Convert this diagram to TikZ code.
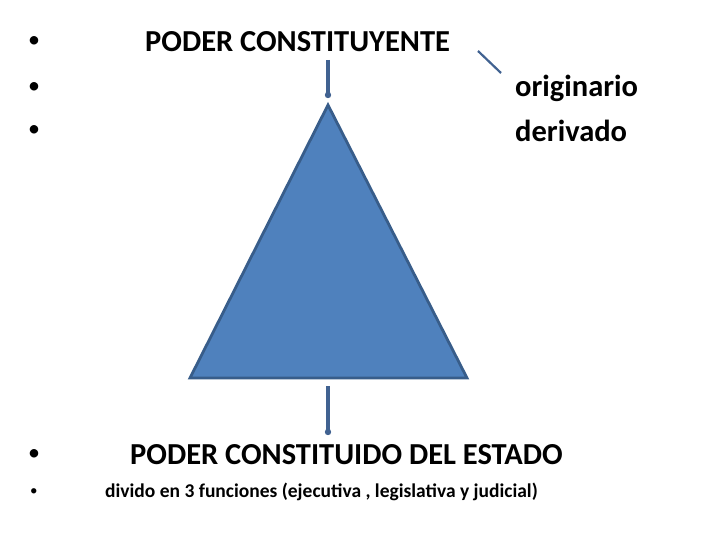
\documentclass[tikz,border=0pt]{standalone}
\usepackage{fontspec}
\setmainfont{Carlito}
\begin{document}
\begin{tikzpicture}[x=1pt,y=-1pt,
  big/.style={font=\fontsize{30.5}{32}\selectfont\bfseries,anchor=west,inner sep=0},
  bul/.style={font=\fontsize{24}{26}\selectfont,anchor=west,inner sep=0},
  small/.style={font=\fontsize{19.5}{22}\selectfont\bfseries,anchor=west,inner sep=0},
  conn/.style={color={rgb,255:red,65;green,98;blue,145},line width=3.2pt},
  dotend/.style={fill={rgb,255:red,65;green,98;blue,145}}]
\useasboundingbox (0,0) rectangle (720,540);
\node[bul] (b1) at (28,42) {•};
\node[bul] (b2) at (28,88) {•};
\node[bul] (b3) at (28,131) {•};
\node[big] (t1) at (145,42) {PODER CONSTITUYENTE};
\node[big] (t2) at (515,88) {originario};
\node[big] (t3) at (515,131) {derivado};
\node[bul] (b4) at (28,455) {•};
\node[big] (t4) at (130,455) {PODER CONSTITUIDO DEL ESTADO};
\node[small,font=\fontsize{15}{16}\selectfont] (b5) at (30,492) {•};
\node[small] (t5) at (105,492) {divido en 3 funciones (ejecutiva , legislativa y judicial)};
\coordinate (a1) at (328,60); \coordinate (a2) at (328,95);
\coordinate (c1) at (328,386); \coordinate (c2) at (328,432);
\coordinate (d1) at (478,51); \coordinate (d2) at (501,73);
\draw[conn,line width=2.2pt] (d1) -- (d2);
\draw[conn] (a1) -- (a2); \fill[dotend] (a2) circle (3.2);
\draw[conn] (c1) -- (c2); \fill[dotend] (c2) circle (3.2);
\coordinate (p1) at (328,105); \coordinate (p2) at (467,378); \coordinate (p3) at (190,378);
\filldraw[fill={rgb,255:red,79;green,129;blue,189},draw={rgb,255:red,56;green,93;blue,138},line width=2.8pt,line join=miter] (p1) -- (p2) -- (p3) -- cycle;
\end{tikzpicture}
\end{document}
